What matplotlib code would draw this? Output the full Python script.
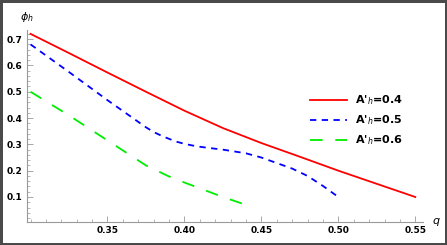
import matplotlib
matplotlib.use("Agg")
import matplotlib.pyplot as plt
from matplotlib.ticker import MultipleLocator

# values
q_red = [0.30, 0.325, 0.35, 0.375, 0.40, 0.425, 0.45, 0.475, 0.50, 0.525, 0.55]
phi_red = [0.72, 0.647, 0.573, 0.50, 0.428, 0.362, 0.305, 0.253, 0.20, 0.15, 0.10]

q_blue = [0.30, 0.325, 0.35, 0.375, 0.38, 0.385, 0.39, 0.395, 0.40, 0.405, 0.41, 0.415,
          0.425, 0.44, 0.45, 0.46, 0.47, 0.48, 0.49, 0.50]
phi_blue = [0.68, 0.575, 0.468, 0.365, 0.347, 0.333, 0.321, 0.31, 0.302, 0.296, 0.291, 0.287,
            0.28, 0.266, 0.25, 0.229, 0.208, 0.18, 0.142, 0.10]

q_green = [0.30, 0.325, 0.35, 0.375, 0.39, 0.40, 0.41, 0.425, 0.445]
phi_green = [0.50, 0.41, 0.315, 0.22, 0.178, 0.155, 0.133, 0.10, 0.06]

labels = ["A'$_h$=0.4", "A'$_h$=0.5", "A'$_h$=0.6"]

fig = plt.figure(figsize=(4.47, 2.45), dpi=100, edgecolor="#4a4a4a", linewidth=2.5)
ax = fig.add_axes([0.0593, 0.0939, 0.887, 0.784])

ax.plot(q_red, phi_red, color="#ff0000", lw=1.3, label=labels[0])
ax.plot(q_blue, phi_blue, color="#0000ff", lw=1.3, ls=(0, (3.5, 3)), label=labels[1])
ax.plot(q_green, phi_green, color="#00ee00", lw=1.3, ls=(0, (7, 7)), label=labels[2])

ax.set_xlim(0.2974, 0.555)
ax.set_ylim(0.005, 0.735)

for s in ["top", "right"]:
    ax.spines[s].set_visible(False)
for s in ["left", "bottom"]:
    ax.spines[s].set_color("#999999")
    ax.spines[s].set_linewidth(0.8)

ax.xaxis.set_minor_locator(MultipleLocator(0.01))
ax.yaxis.set_minor_locator(MultipleLocator(0.02))
ax.set_xticks([0.35, 0.40, 0.45, 0.50, 0.55])
ax.set_xticklabels(["0.35", "0.40", "0.45", "0.50", "0.55"])
ax.set_yticks([0.1, 0.2, 0.3, 0.4, 0.5, 0.6, 0.7])
ax.tick_params(which="both", direction="in", color="#999999")
ax.tick_params(which="major", length=4, width=0.6, labelsize=6.5, pad=3)
ax.tick_params(which="minor", length=2, width=0.5)
for t in ax.get_xticklabels() + ax.get_yticklabels():
    t.set_fontweight("bold")

fig.text(0.045, 0.93, r"$\phi_h$", fontsize=8, fontweight="bold", ha="left", va="center")
fig.text(0.975, 0.095, r"$q$", fontsize=8, ha="center", va="center")

leg = ax.legend(loc="upper left", bbox_to_anchor=(0.69, 0.72), frameon=False,
                handlelength=3.3, handletextpad=0.7, labelspacing=0.55,
                prop={"size": 8, "weight": "bold"})

fig.savefig("out.png", dpi=100)
